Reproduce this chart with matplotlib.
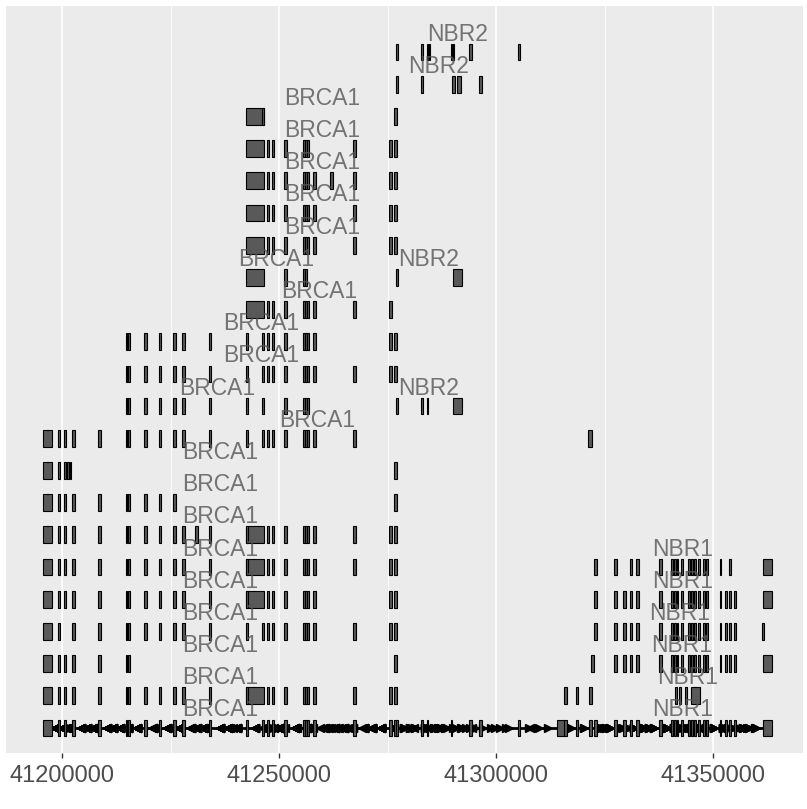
import matplotlib
matplotlib.use('Agg')
import matplotlib.pyplot as plt
from matplotlib.patches import Rectangle

plt.rcParams['font.family'] = ['Liberation Sans', 'DejaVu Sans']

# ---------------- data (genomic coordinates, chr17) ----------------
brca1_exons = {
    'b0': (41195700, 41197600), 'b1': (41199000, 41199500), 'b2': (41200500, 41200900),
    'b2x': (41201150, 41201550), 'b2y': (41201800, 41202100), 'b3': (41202400, 41203000),
    'b4': (41208400, 41208900), 'b5': (41214700, 41215050), 'b6': (41215300, 41215700),
    'b7': (41219000, 41219500), 'b8': (41222350, 41222800), 'b9': (41225650, 41226200),
    'b10': (41227700, 41228300), 'b11': (41230650, 41231350), 'b12': (41233850, 41234300),
    'b13': (41242400, 41242900), 'b13L': (41242400, 41246500), 'b14': (41246150, 41246600),
    'b15': (41247150, 41247700), 'b16': (41248300, 41248900), 'b17': (41251150, 41251750),
    'b18': (41255450, 41255900), 'b19': (41256000, 41256450), 'b20': (41256550, 41256950),
    'b21': (41257900, 41258500), 'b20x': (41261750, 41262350), 'b22': (41267100, 41267700),
    'b23': (41275350, 41276000), 'b24': (41276500, 41277250), 'b25': (41321200, 41322100),
}
nbr2_exons = {
    'n0': (41276950, 41277500), 'n1': (41282650, 41283100), 'n2a': (41284000, 41284300),
    'n2b': (41284500, 41284850), 'n3a': (41289600, 41289900), 'n3b': (41290050, 41290350),
    'n4': (41293850, 41294400), 'n5': (41305000, 41305500), 'n6': (41289950, 41290550),
    'n7': (41291000, 41292000), 'n8': (41296100, 41296700), 'n9': (41290100, 41292150),
}
other_exons = {
    'u0': (41315650, 41316350), 'u1': (41318350, 41318950), 'u2': (41321500, 41322200),
    'um': (41314050, 41315800),
}
nbr1_exons = {
    'r0': (41322650, 41323200), 'r0b': (41321900, 41322550), 'r1': (41327250, 41327800),
    'r2': (41329300, 41329850), 'r3': (41330850, 41331400), 'r4': (41332250, 41332950),
    'r5': (41337600, 41338150),
    'c1': (41340400, 41340800), 'c2': (41341000, 41341400), 'c3': (41341600, 41342000),
    'c4': (41342600, 41343000), 'c5': (41344300, 41344700), 'c6': (41345000, 41345400),
    'c7': (41345700, 41346100), 'c8': (41346500, 41346900), 'c9': (41347700, 41348100),
    'c10': (41348400, 41348800),
    'r6': (41351500, 41351900), 'r7': (41352750, 41353150), 'r8': (41353700, 41354100),
    'r9': (41354900, 41355300), 'r10': (41361400, 41363500), 'r10t': (41361200, 41361750),
    'p1': (41341200, 41341600), 'p2': (41342200, 41342700), 'p3': (41343500, 41344000),
    'p4': (41345000, 41347000),
}
gene_strand = {'BRCA1': '-', 'NBR2': '+', 'NBR1': '+', '': '+'}

CL = ['c1', 'c2', 'c3', 'c4', 'c5', 'c6', 'c7', 'c8', 'c9', 'c10']
B_MID = ['b15', 'b16', 'b17', 'b18', 'b19', 'b20', 'b21']
B_LEFT = ['b0', 'b1', 'b2', 'b3', 'b4', 'b5', 'b6', 'b7', 'b8', 'b9', 'b10', 'b12']

# (row from top, gene label, exon keys)
transcripts = [
    (1, 'NBR2', ['n0', 'n1', 'n2a', 'n2b', 'n3a', 'n3b', 'n4', 'n5']),
    (2, 'NBR2', ['n0', 'n1', 'n6', 'n7', 'n8']),
    (3, 'BRCA1', ['b13L', 'b14', 'b24']),
    (4, 'BRCA1', ['b13L', 'b15', 'b16', 'b17', 'b18', 'b19', 'b20', 'b22', 'b23', 'b24']),
    (5, 'BRCA1', ['b13L'] + B_MID + ['b20x', 'b22', 'b23', 'b24']),
    (6, 'BRCA1', ['b13L'] + B_MID + ['b22', 'b23', 'b24']),
    (7, 'BRCA1', ['b13L'] + B_MID + ['b22', 'b23', 'b24']),
    (8, 'BRCA1', ['b13L', 'b17', 'b18', 'b19']),
    (8, 'NBR2', ['n0', 'n9']),
    (9, 'BRCA1', ['b13L'] + B_MID + ['b22', 'b23']),
    (10, 'BRCA1', ['b5', 'b6', 'b7', 'b8', 'b9', 'b10', 'b12', 'b13', 'b14'] + B_MID + ['b23', 'b24']),
    (11, 'BRCA1', ['b5', 'b6', 'b7', 'b8', 'b9', 'b10', 'b12', 'b13', 'b14'] + B_MID + ['b22', 'b23', 'b24']),
    (12, 'BRCA1', ['b5', 'b6', 'b7', 'b8', 'b9', 'b10', 'b12', 'b13', 'b14', 'b17', 'b18', 'b19', 'b20']),
    (12, 'NBR2', ['n0', 'n1', 'n2a', 'n9']),
    (13, 'BRCA1', B_LEFT + ['b13', 'b14'] + B_MID + ['b22', 'b25']),
    (14, 'BRCA1', ['b0', 'b1', 'b2', 'b2x', 'b2y', 'b24']),
    (15, 'BRCA1', ['b0', 'b1', 'b2', 'b3', 'b4', 'b5', 'b6', 'b7', 'b8', 'b9', 'b24']),
    (16, 'BRCA1', B_LEFT + ['b11', 'b13L', 'b13'] + B_MID + ['b22', 'b23', 'b24']),
    (17, 'BRCA1', B_LEFT + ['b13L', 'b13'] + B_MID + ['b22', 'b23', 'b24']),
    (17, 'NBR1', ['r0', 'r1', 'r3', 'r4', 'r5'] + CL + ['r6', 'r8', 'r10']),
    (18, 'BRCA1', B_LEFT + ['b13L', 'b13'] + B_MID + ['b23', 'b24']),
    (18, 'NBR1', ['r0', 'r1', 'r2', 'r3', 'r4', 'r5'] + CL + ['r6', 'r7', 'r8', 'r9', 'r10']),
    (19, 'BRCA1', ['b0', 'b1', 'b3', 'b4', 'b5', 'b6', 'b7', 'b8', 'b9', 'b10', 'b12', 'b13', 'b14']
     + B_MID + ['b22', 'b23', 'b24']),
    (19, 'NBR1', ['r0', 'r1', 'r2', 'r3', 'r4', 'r5'] + CL + ['r6', 'r7', 'r8', 'r9', 'r10t']),
    (20, 'BRCA1', ['b0', 'b1', 'b2', 'b3', 'b4', 'b5', 'b6', 'b24']),
    (20, 'NBR1', ['r0b', 'r1', 'r2', 'r3', 'r4', 'r5'] + CL + ['r6', 'r7', 'r8', 'r9', 'r10']),
    (21, 'BRCA1', B_LEFT + ['b13L', 'b13'] + B_MID + ['b22', 'b23', 'b24']),
    (21, '', ['u0', 'u1', 'u2']),
    (21, 'NBR1', ['p1', 'p2', 'p3', 'p4']),
    (22, 'BRCA1', B_LEFT + ['b13', 'b14'] + B_MID + ['b22', 'b23', 'b24']),
    (22, '', ['n0', 'n1', 'n2a', 'n3a', 'n4', 'n8', 'n5', 'um', 'u0', 'u1', 'u2']),
    (22, 'NBR1', ['r0', 'r1', 'r2', 'r3', 'r4', 'r5'] + CL + ['r6', 'r7', 'r8', 'r9', 'r10']),
]

xtick_values = [41200000, 41250000, 41300000, 41350000]
xtick_labels = ['41200000', '41250000', '41300000', '41350000']
xminor_values = [41225000, 41275000, 41325000]

# ---------------- drawing ----------------
all_exons = {}
for d in (brca1_exons, nbr2_exons, other_exons, nbr1_exons):
    all_exons.update(d)

n_rows = 22
fig = plt.figure(figsize=(8.07, 8.09), dpi=100)
ax = fig.add_axes([6 / 807, 1 - 753 / 809, 797 / 807, 747 / 809])
ax.set_facecolor('#EBEBEB')

H = 0.26
bottom_y = 1

# gap line for the bottom row
bottom_keys = [k for r, g, ks in transcripts if r == n_rows for k in ks]
bx0 = min(all_exons[k][0] for k in bottom_keys)
bx1 = max(all_exons[k][1] for k in bottom_keys)
ax.plot([bx0, bx1], [bottom_y, bottom_y], color='black', lw=2.0, zorder=2,
        solid_capstyle='butt')

# arrowheads along the introns of all transcripts (drawn on the bottom row)
for r, g, ks in transcripts:
    ivs = sorted(all_exons[k] for k in ks)
    mk = '<' if gene_strand[g] == '-' else '>'
    for (s0, e0), (s1, e1) in zip(ivs[:-1], ivs[1:]):
        gap = s1 - e0
        if gap <= 0:
            continue
        fr = [0.5] if gap < 4000 else [0.25, 0.5, 0.75]
        for f in fr:
            ax.plot([e0 + f * gap], [bottom_y], marker=mk, ms=6, color='black',
                    mec='black', zorder=2.5, lw=0)

# exons
for r, g, ks in transcripts:
    y = n_rows + 1 - r
    for k in ks:
        s, e = all_exons[k]
        ax.add_patch(Rectangle((s, y - H), e - s, 2 * H, facecolor='#595959',
                               edgecolor='black', lw=0.8, zorder=3))

# labels
for r, g, ks in transcripts:
    if not g:
        continue
    y = n_rows + 1 - r
    s = min(all_exons[k][0] for k in ks)
    e = max(all_exons[k][1] for k in ks)
    ax.text((s + e) / 2, y + 0.56, g, ha='center', va='center', fontsize=16.5,
            color='#555555', alpha=0.8, zorder=4)

ax.set_xticks(xtick_values)
ax.set_xticklabels(xtick_labels)
ax.set_xticks(xminor_values, minor=True)
ax.set_yticks([])
ax.set_xlim(41187100, 41370700)
ax.set_ylim(0.223, 23.43)
ax.tick_params(axis='x', which='major', length=3.5, width=1.0, color='#333333',
               labelsize=17, labelcolor='#4D4D4D', pad=5)
ax.tick_params(axis='x', which='minor', length=0)
ax.grid(which='major', axis='x', color='white', lw=1.2, zorder=0)
ax.grid(which='minor', axis='x', color='white', lw=0.6, zorder=0)
ax.set_axisbelow(True)
for sp in ax.spines.values():
    sp.set_visible(False)

fig.savefig('out.png', dpi=100)
